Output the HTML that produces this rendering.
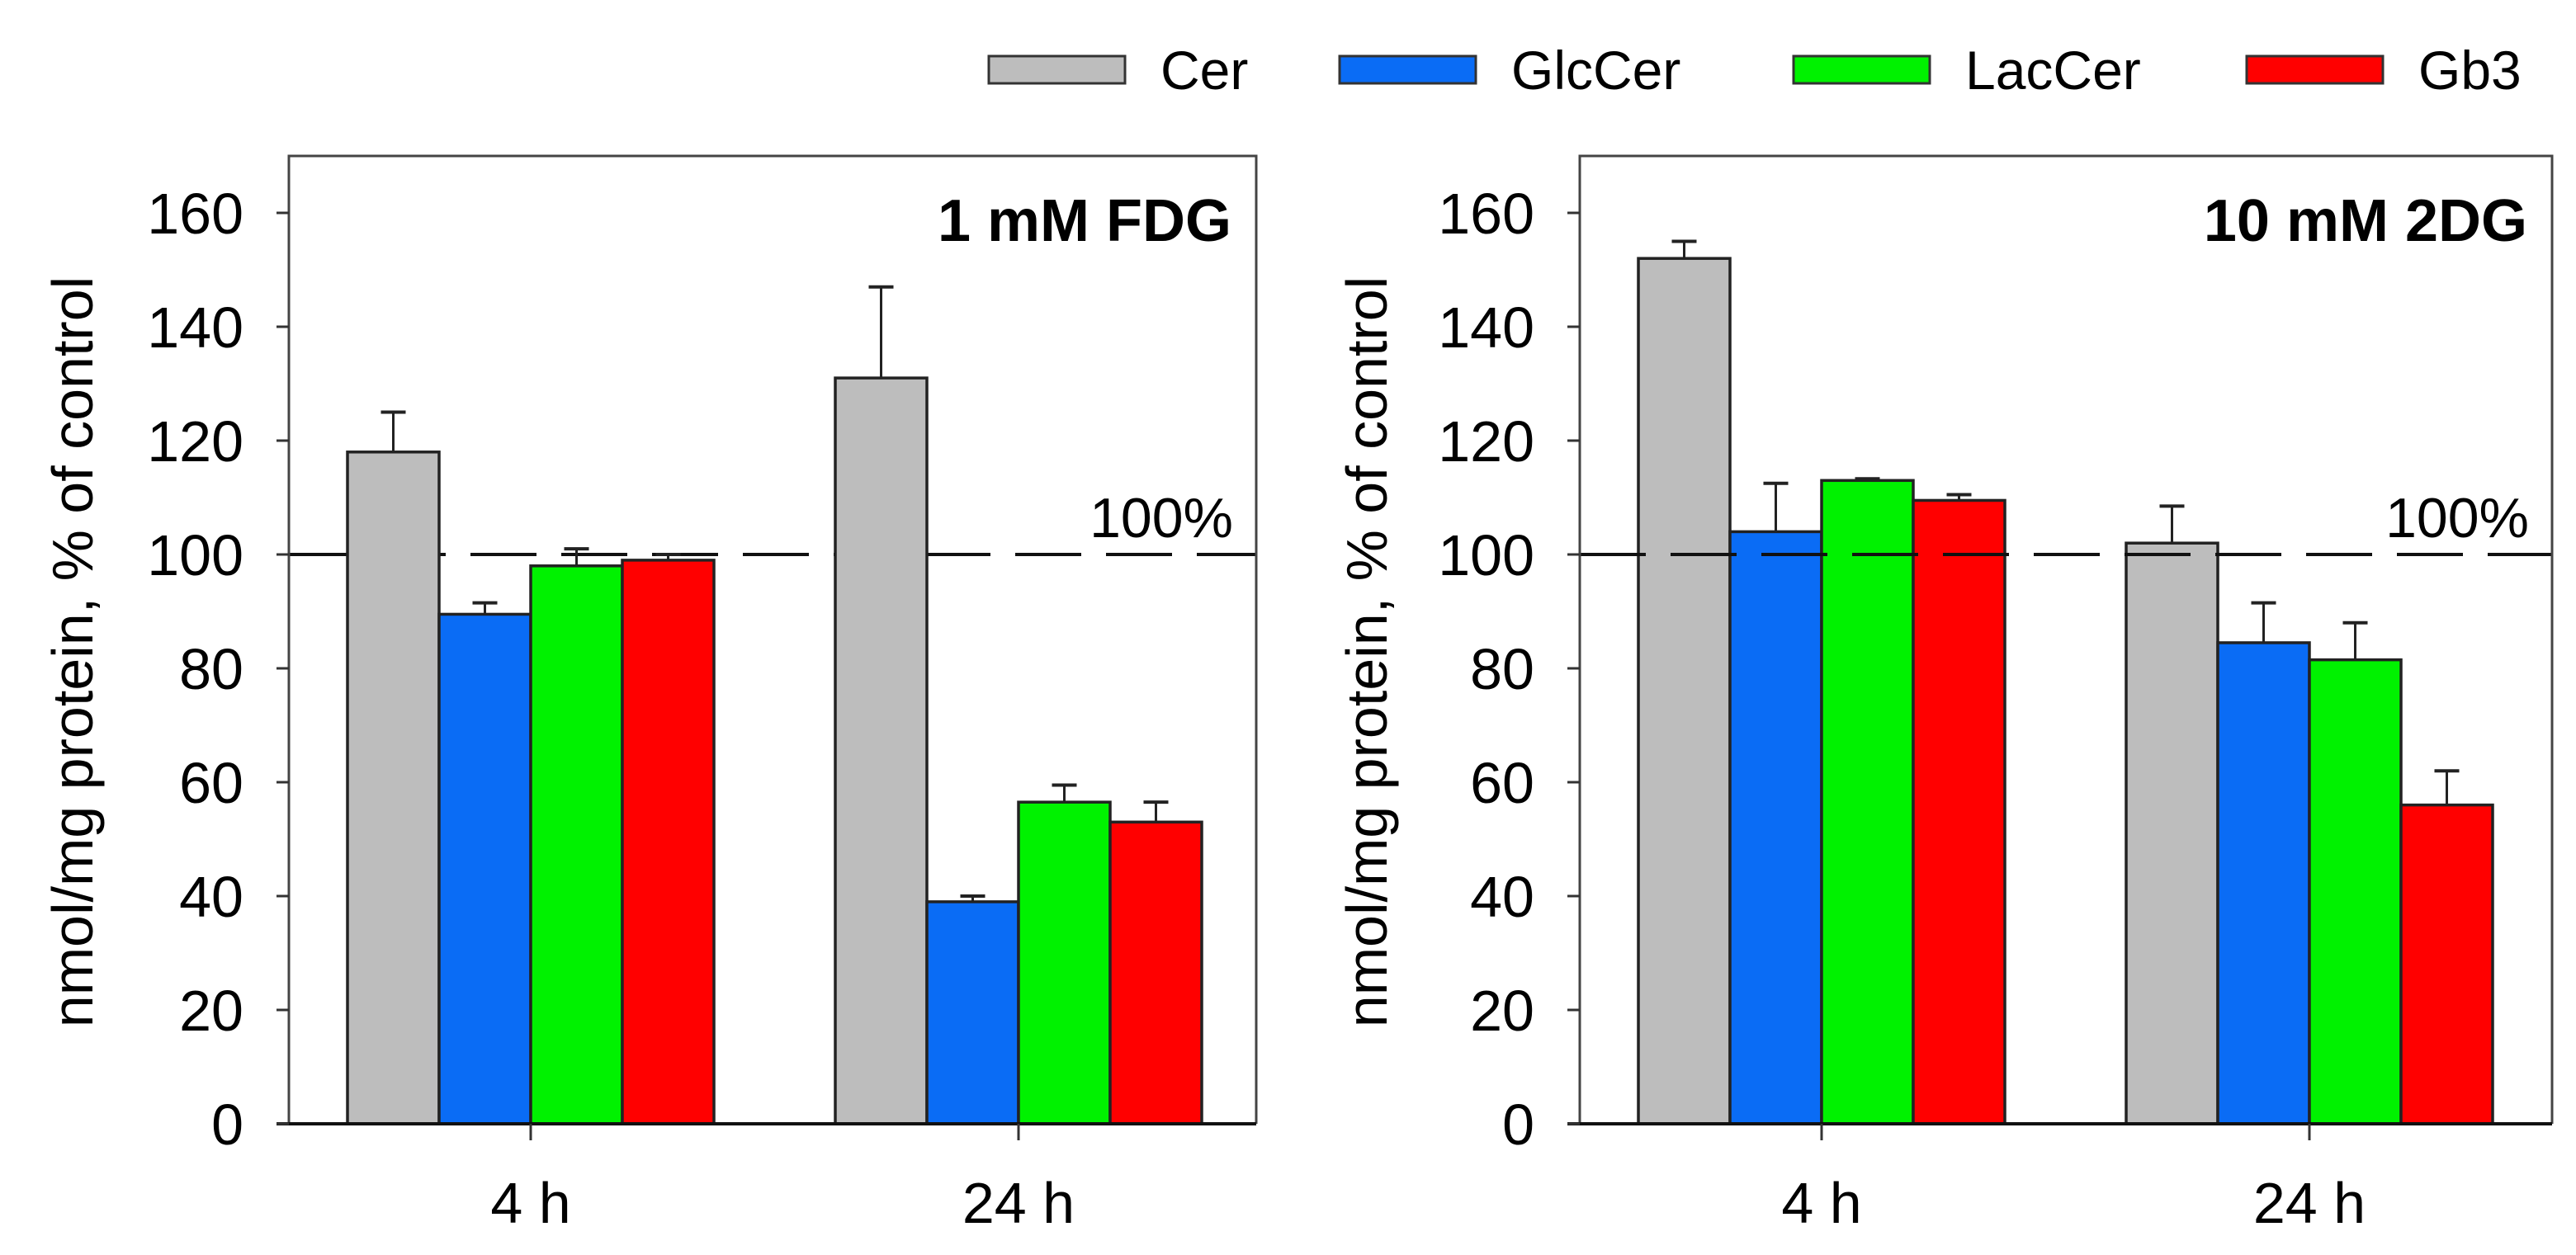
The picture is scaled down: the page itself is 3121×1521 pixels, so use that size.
<!DOCTYPE html>
<html><head><meta charset="utf-8"><style>
html,body{margin:0;padding:0;background:#fff;}
svg{display:block;}
text{font-family:"Liberation Sans",Arial,sans-serif;fill:#000;}
</style></head><body>
<svg id="chart" width="3121" height="1521" viewBox="0 0 3121 1521" xmlns="http://www.w3.org/2000/svg">
<g id="legend"></g>
<g id="p1"></g>
<g id="p2"></g>
</svg>
<script>
const series = ["Cer","GlcCer","LacCer","Gb3"];
const colors = ["#bdbdbd","#0a6cf5","#00f200","#ff0000"];
const categories = ["4 h","24 h"];
const yTicks = [0,20,40,60,80,100,120,140,160];
const fdgValues = [[118,89.5,98,99],[131,39,56.5,53]];
const fdgErrors = [[7,2,3,1],[16,1,3,3.5]];
const dgValues = [[152,104,113,109.5],[102,84.5,81.5,56]];
const dgErrors = [[3,8.5,0.3,1],[6.5,7,6.5,6]];
const NS="http://www.w3.org/2000/svg";
function mk(tag,attrs,parent){const e=document.createElementNS(NS,tag);for(const k in attrs)e.setAttribute(k,attrs[k]);parent.appendChild(e);return e;}

const lg=document.getElementById('legend');
const lgBox=[1198,1623,2173,2722];
series.forEach((s,i)=>{
  const r=mk('rect',{x:lgBox[i],y:68,width:165,height:33,fill:colors[i],stroke:'#333','stroke-width':3},lg);
  
  
  const t=mk('text',{x:lgBox[i]+208,y:108,'font-size':66},lg);
  t.textContent=s;
  
  
});

function panel(g,x0,x1,vals,errs,title,titleName,lineOnTop,titleX){
  const top=189,zero=1362,ymax=170;
  const y=v=>zero-(v/ymax)*(zero-top);
  const groupStart=[x0+71,x0+662];
  const bw=111;
  const xb=(c,i)=>groupStart[c]+i*bw;
  const yt=mk('text',{x:0,y:0,'font-size':70,'text-anchor':'middle',transform:`translate(${titleX},790) rotate(-90)`},g);
  yt.textContent='nmol/mg protein,  % of control';
  
  
  const drawLine=()=>{
    const l=mk('line',{x1:x0,y1:y(100),x2:x1,y2:y(100),stroke:'#111','stroke-width':4,'stroke-dasharray':'80 30'},g);
    
    
  };
  if(!lineOnTop) drawLine();
  vals.forEach((grp,c)=>{
    grp.forEach((v,i)=>{
      const bx=xb(c,i);
      const e=mk('line',{x1:bx+bw/2,x2:bx+bw/2,y1:y(v),y2:y(v+errs[c][i]),stroke:'#222','stroke-width':3},g);
      
      
      const cp=mk('line',{x1:bx+bw/2-15,x2:bx+bw/2+15,y1:y(v+errs[c][i]),y2:y(v+errs[c][i]),stroke:'#222','stroke-width':4},g);
      
      
      const r=mk('rect',{x:bx,y:y(v),width:bw,height:zero-y(v),fill:colors[i],stroke:'#222','stroke-width':3.5},g);
      
      
    });
  });
  if(lineOnTop) drawLine();
  const fr=mk('path',{d:`M${x0},${zero} L${x0},${top} L${x1},${top} L${x1},${zero}`,fill:'none',stroke:'#444','stroke-width':3},g);
  
  
  const xa=mk('line',{x1:x0-15,x2:x1,y1:zero,y2:zero,stroke:'#111','stroke-width':4},g);
  
  
  yTicks.forEach(t=>{
    const tk=mk('line',{x1:x0-15,x2:x0,y1:y(t),y2:y(t),stroke:'#333','stroke-width':3},g);
    
    
    const tl=mk('text',{x:x0-55,y:y(t)+25,'font-size':70,'text-anchor':'end'},g);
    tl.textContent=t;
    
    
  });
  categories.forEach((c,ci)=>{
    const cx=groupStart[ci]+2*bw;
    const tk=mk('line',{x1:cx,x2:cx,y1:zero,y2:zero+20,stroke:'#333','stroke-width':3},g);
    
    
    const tl=mk('text',{x:cx,y:1482,'font-size':70,'text-anchor':'middle'},g);
    tl.textContent=c;
    
    
  });
  const tt=mk('text',{x:x1-30,y:292,'font-size':72,'font-weight':'bold','text-anchor':'end'},g);
  tt.textContent=title;
  
  
  const pc=mk('text',{x:x1-28,y:651,'font-size':68,'text-anchor':'end'},g);
  pc.textContent='100%';
  
  
}
panel(document.getElementById('p1'),350,1522,fdgValues,fdgErrors,'1 mM FDG','panel-title-fdg',false,112);
panel(document.getElementById('p2'),1914,3092,dgValues,dgErrors,'10 mM 2DG','panel-title-2dg',true,1680);
</script>
</body></html>
